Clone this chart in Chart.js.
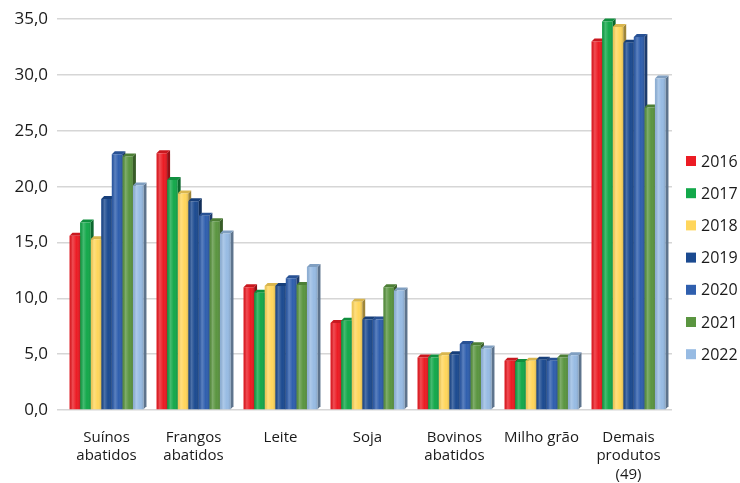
<!DOCTYPE html>
<html>
<head>
<meta charset="utf-8">
<script src="https://cdn.jsdelivr.net/npm/chart.js@4.4.1/dist/chart.umd.min.js"></script>
<style>
  html, body { margin: 0; padding: 0; background: #ffffff; }
  #wrap { width: 740px; height: 483px; position: relative; }
</style>
</head>
<body>
<div id="wrap"><canvas id="chart" width="740" height="483"></canvas></div>
<script>
// Categories (x axis) and year series, in %
const categories = [
  ['Suínos', 'abatidos'],
  ['Frangos', 'abatidos'],
  'Leite',
  'Soja',
  ['Bovinos', 'abatidos'],
  'Milho grão',
  ['Demais', 'produtos', '(49)']
];
const years = ['2016', '2017', '2018', '2019', '2020', '2021', '2022'];

const s2016 = [15.6, 23.0, 11.0, 7.8, 4.7, 4.4, 33.0];
const s2017 = [16.8, 20.6, 10.5, 8.0, 4.7, 4.3, 34.8];
const s2018 = [15.3, 19.4, 11.1, 9.7, 4.9, 4.4, 34.3];
const s2019 = [18.9, 18.7, 11.1, 8.1, 5.0, 4.5, 32.9];
const s2020 = [22.9, 17.4, 11.8, 8.1, 5.9, 4.4, 33.4];
const s2021 = [22.7, 16.9, 11.2, 11.0, 5.8, 4.7, 27.1];
const s2022 = [20.1, 15.8, 12.8, 10.7, 5.5, 4.9, 29.7];

const yTicks = [0, 5, 10, 15, 20, 25, 30, 35];

const seriesValues = [s2016, s2017, s2018, s2019, s2020, s2021, s2022];
const seriesColors = ['#ec1c24', '#13a84a', '#ffd65c', '#1b4a90', '#2f5fae', '#5a9540', '#97bbe3'];

function hexToRgb(hex) {
  const v = parseInt(hex.slice(1), 16);
  return [(v >> 16) & 255, (v >> 8) & 255, v & 255];
}
function shade(hex, f) {
  const [r, g, b] = hexToRgb(hex);
  const m = c => Math.max(0, Math.min(255, Math.round(f < 1 ? c * f : c + (255 - c) * (f - 1))));
  return `rgb(${m(r)},${m(g)},${m(b)})`;
}

const DEPTH = 3;

// Side and top faces of each bar, drawn behind the flat fronts
const barDepth = {
  id: 'barDepth',
  beforeDatasetsDraw(chart) {
    const ctx = chart.ctx;
    const n = chart.data.labels.length;
    ctx.save();
    for (let c = 0; c < n; c++) {
      chart.data.datasets.forEach((ds, d) => {
        const el = chart.getDatasetMeta(d).data[c];
        if (!el) return;
        const { x, y, base, width } = el.getProps(['x', 'y', 'base', 'width'], true);
        const x0 = x - width / 2, x1 = x + width / 2;
        const col = seriesColors[d];
        ctx.fillStyle = shade(col, 0.62);
        ctx.beginPath();
        ctx.moveTo(x1, y);
        ctx.lineTo(x1 + DEPTH, y - DEPTH);
        ctx.lineTo(x1 + DEPTH, base - DEPTH);
        ctx.lineTo(x1, base);
        ctx.closePath();
        ctx.fill();
        ctx.fillStyle = shade(col, 0.85);
        ctx.beginPath();
        ctx.moveTo(x0, y);
        ctx.lineTo(x1, y);
        ctx.lineTo(x1 + DEPTH, y - DEPTH);
        ctx.lineTo(x0 + DEPTH, y - DEPTH);
        ctx.closePath();
        ctx.fill();
      });
    }
    ctx.restore();
  },
  afterDatasetsDraw(chart) {
    // soft cylindrical shading over the front faces
    const ctx = chart.ctx;
    ctx.save();
    chart.data.datasets.forEach((ds, d) => {
      chart.getDatasetMeta(d).data.forEach(el => {
        const { x, y, base, width } = el.getProps(['x', 'y', 'base', 'width'], true);
        const x0 = x - width / 2, x1 = x + width / 2;
        const g = ctx.createLinearGradient(x0, 0, x1, 0);
        g.addColorStop(0, 'rgba(0,0,0,0.06)');
        g.addColorStop(0.3, 'rgba(255,255,255,0.22)');
        g.addColorStop(0.65, 'rgba(255,255,255,0)');
        g.addColorStop(1, 'rgba(0,0,0,0.14)');
        ctx.fillStyle = g;
        ctx.fillRect(x0, y, x1 - x0, base - y);
      });
    });
    ctx.restore();
  }
};

// Legend column on the right
const sideLegend = {
  id: 'sideLegend',
  afterDraw(chart) {
    const ctx = chart.ctx;
    ctx.save();
    ctx.font = '16px "Open Sans"';
    ctx.textBaseline = 'middle';
    const startY = 161, step = 32.2;
    chart.data.datasets.forEach((ds, i) => {
      const cy = startY + i * step;
      ctx.fillStyle = seriesColors[i];
      ctx.fillRect(686, cy - 5, 10, 10);
      ctx.fillStyle = '#1a1a1a';
      ctx.fillText(ds.label, 701, cy + 1);
    });
    ctx.restore();
  }
};

const datasets = years.map((yr, i) => ({
  label: yr,
  data: seriesValues[i],
  backgroundColor: seriesColors[i],
  borderWidth: 0,
  barPercentage: 1.0,
  categoryPercentage: 0.85
}));

new Chart(document.getElementById('chart'), {
  type: 'bar',
  data: { labels: categories, datasets },
  plugins: [barDepth, sideLegend],
  options: {
    responsive: false,
    animation: false,
    devicePixelRatio: 1,
    layout: { padding: { top: 18, right: 68, bottom: 0, left: 0 } },
    plugins: {
      legend: { display: false },
      tooltip: { enabled: false }
    },
    scales: {
      x: {
        grid: { display: false },
        border: { display: false },
        ticks: {
          color: '#1a1a1a',
          font: { family: 'Open Sans', size: 15, lineHeight: 1.25 },
          padding: 10,
          maxRotation: 0,
          autoSkip: false
        },
        afterFit(scale) { scale.height = 73; }
      },
      y: {
        min: 0,
        max: 35,
        afterBuildTicks(scale) { scale.ticks = yTicks.map(v => ({ value: v })); },
        grid: { color: '#d6d6d6', lineWidth: 1.5, drawTicks: true, tickLength: 6, tickColor: '#d6d6d6' },
        border: { display: false },
        ticks: {
          color: '#1a1a1a',
          font: { family: 'Open Sans', size: 17 },
          padding: 9,
          callback: v => v.toFixed(1).replace('.', ',')
        },
        afterFit(scale) { scale.width = 63; }
      }
    }
  }
});
</script>
</body>
</html>
